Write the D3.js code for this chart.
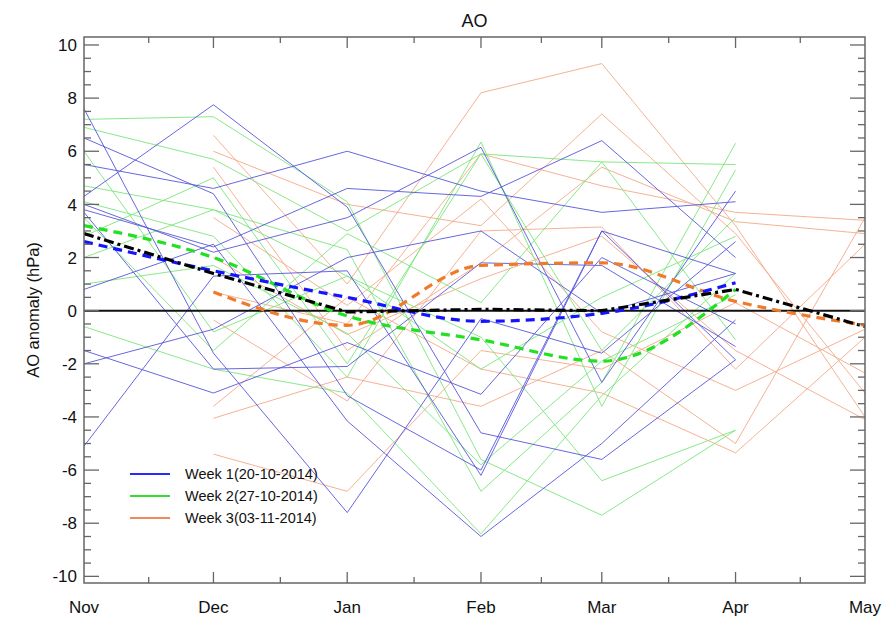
<!DOCTYPE html>
<html>
<head>
<meta charset="utf-8">
<script src="https://cdn.jsdelivr.net/npm/d3@7"></script>
<style>
  html, body { margin: 0; padding: 0; background: #fff; }
  svg { display: block; font-family: "Liberation Sans", Arial, Helvetica, sans-serif; }
</style>
</head>
<body>
<svg id="chart" width="895" height="619"></svg>
<script>
// Month labels and the first day of each month on the time axis
const monthLabels = ["Nov", "Dec", "Jan", "Feb", "Mar", "Apr", "May"];
const monthDates = [
  Date.UTC(2014, 10, 1), Date.UTC(2014, 11, 1), Date.UTC(2015, 0, 1),
  Date.UTC(2015, 1, 1), Date.UTC(2015, 2, 1), Date.UTC(2015, 3, 1), Date.UTC(2015, 4, 1)
].map(t => new Date(t));

// Week 1 members (Nov..Apr), hPa
const week1Members = [
  [7.6, -1.6, -7.6, -0.3, -1.6, 2.6],
  [6.5, 4.4, -3.2, -6.0, 3.0, 1.4],
  [5.5, 4.6, 6.0, 4.5, 3.7, 4.1],
  [4.3, 7.75, 3.9, -4.6, -5.6, -1.85],
  [4.0, 2.2, 3.5, 6.15, -2.7, 4.5],
  [3.8, 2.4, 4.6, 4.3, 6.4, 2.0],
  [3.7, -2.2, -2.1, 1.8, 1.7, -1.35],
  [0.8, 2.5, -4.15, -8.5, -5.0, -0.35],
  [-1.5, -3.1, -1.2, -3.15, 2.0, -0.5],
  [-2.0, -0.7, 2.0, 3.0, -0.1, 1.4],
  [-5.1, 1.3, 1.5, -6.2, 3.0, -1.85]
];
// Week 2 members (Nov..Apr)
const week2Members = [
  [7.2, 7.3, 4.1, -5.6, -7.7, -4.5],
  [6.9, 5.7, 3.0, 5.9, 5.6, 5.5],
  [4.7, 3.8, 2.3, -6.8, -2.7, 6.3],
  [4.1, 2.8, -2.5, 6.35, -3.6, 5.3],
  [2.0, 3.8, 1.3, -1.0, -6.4, -4.5],
  [1.0, 1.7, -0.85, -5.8, -1.9, 0.6],
  [-0.6, -2.2, -3.1, -8.4, -3.2, 1.4],
  [6.0, -0.8, 1.3, -2.2, 0.5, 2.8],
  [3.5, -1.5, 2.9, 0.3, 5.6, -1.1],
  [2.8, 5.0, -2.0, 5.9, -1.5, 3.5]
];
// Week 3 members (Dec..May)
const week3Members = [
  [6.6, 1.0, 8.2, 9.3, 3.2, -4.0],
  [6.0, 4.0, 3.2, 7.4, 2.9, -3.1],
  [5.4, -1.5, 1.8, 5.4, 3.35, 2.9],
  [0.7, -0.5, 5.9, 4.7, 3.7, 3.4],
  [-0.35, -3.4, 3.0, 3.15, -2.2, 2.5],
  [-3.6, 0.5, -2.2, -3.1, -5.35, -1.0],
  [-4.05, -2.5, -3.6, -1.5, -5.0, 3.5],
  [-5.4, -6.8, -1.5, -2.2, 0.3, -2.35],
  [2.0, -0.9, 1.2, 2.8, -1.5, -4.1],
  [3.5, 0.2, 4.2, -0.8, -3.0, -0.7]
];

// Ensemble means
const week1Mean = [2.6, 1.5, 0.5, -0.4, -0.1, 1.05];
const week2Mean = [3.2, 2.0, -0.2, -1.1, -1.9, 0.8];
const week3Mean = [0.7, -0.55, 1.7, 1.8, 0.35, -0.55];
const allMean   = [2.9, 1.4, -0.05, 0.05, 0.0, 0.8, -0.6];

const legendLabels = ["Week 1(20-10-2014)", "Week 2(27-10-2014)", "Week 3(03-11-2014)"];
const yMajorTicks = [-10, -8, -6, -4, -2, 0, 2, 4, 6, 8, 10];

const svg = d3.select("#chart");
const pLeft = 84, pRight = 865, pTop = 37, pBottom = 583;

const x = d3.scaleUtc().domain([monthDates[0], monthDates[6]]).range([pLeft, pRight]);
const y = d3.scaleLinear().domain([-10.25, 10.3]).range([pBottom, pTop]);

const col = {
  w1: "#5656dc", w2: "#7ce67c", w3: "#f4aa88",
  w1m: "#1414ff", w2m: "#22e022", w3m: "#f07a2a",
  w1l: "#2a2aff", w2l: "#33dd33", w3l: "#f08a5a"
};

const lineGen = d3.line().x(d => x(d[0])).y(d => y(d[1]));
const smoothGen = d3.line().x(d => x(d[0])).y(d => y(d[1])).curve(d3.curveMonotoneX);

const pair = (vals, offset) => vals.map((v, i) => [monthDates[i + offset], v]);

svg.append("clipPath").attr("id", "plotclip")
  .append("rect").attr("x", pLeft).attr("y", pTop).attr("width", pRight - pLeft).attr("height", pBottom - pTop);
const plot = svg.append("g").attr("clip-path", "url(#plotclip)");

function drawMembers(members, offset, color) {
  plot.append("g").selectAll("path").data(members).join("path")
    .attr("d", m => lineGen(pair(m, offset)))
    .attr("fill", "none").attr("stroke", color).attr("stroke-width", 1)
    .attr("stroke-opacity", 0.9).attr("stroke-linejoin", "round");
}
drawMembers(week3Members, 1, col.w3);
drawMembers(week2Members, 0, col.w2);
drawMembers(week1Members, 0, col.w1);

// zero line
plot.append("line").attr("x1", pLeft).attr("x2", pRight).attr("y1", y(0)).attr("y2", y(0))
  .attr("stroke", "#111").attr("stroke-width", 2);

function drawMean(vals, offset, color, dash, gen) {
  plot.append("path").attr("d", gen(pair(vals, offset)))
    .attr("fill", "none").attr("stroke", color).attr("stroke-width", 3.2)
    .attr("stroke-dasharray", dash);
}
drawMean(week3Mean, 1, col.w3m, "9,6", smoothGen);
drawMean(week2Mean, 0, col.w2m, "9,6", smoothGen);
drawMean(week1Mean, 0, col.w1m, "9,6", smoothGen);
drawMean(allMean, 0, "#000", "10,4,3,4", lineGen);

// frame
svg.append("rect").attr("x", pLeft).attr("y", pTop).attr("width", pRight - pLeft).attr("height", pBottom - pTop)
  .attr("fill", "none").attr("stroke", "#666").attr("stroke-width", 1.5);

// x ticks: months (major) and mid-month (minor), on top and bottom
const minorDates = monthDates.slice(0, -1).map((d, i) => new Date((+d + +monthDates[i + 1]) / 2));
const tickG = svg.append("g").attr("stroke", "#666").attr("stroke-width", 1.3);
monthDates.slice(1, -1).forEach(d => {
  tickG.append("line").attr("x1", x(d)).attr("x2", x(d)).attr("y1", pBottom).attr("y2", pBottom - 11);
  tickG.append("line").attr("x1", x(d)).attr("x2", x(d)).attr("y1", pTop).attr("y2", pTop + 11);
});
minorDates.forEach(d => {
  tickG.append("line").attr("x1", x(d)).attr("x2", x(d)).attr("y1", pBottom).attr("y2", pBottom - 6);
  tickG.append("line").attr("x1", x(d)).attr("x2", x(d)).attr("y1", pTop).attr("y2", pTop + 6);
});
// y ticks: major every 2, minor every 0.5, left and right
d3.range(-10, 10.01, 0.5).forEach(v => {
  const major = Math.abs(v % 2) < 1e-9;
  const len = major ? 15 : 7;
  tickG.append("line").attr("x1", pLeft).attr("x2", pLeft + len).attr("y1", y(v)).attr("y2", y(v));
  tickG.append("line").attr("x1", pRight).attr("x2", pRight - len).attr("y1", y(v)).attr("y2", y(v));
});

// tick labels
svg.append("g").selectAll("text").data(yMajorTicks).join("text")
  .attr("x", pLeft - 7).attr("y", v => y(v)).attr("dy", "0.36em")
  .attr("text-anchor", "end").attr("font-size", 17).attr("fill", "#111")
  .text(v => v);
svg.append("g").selectAll("text").data(monthLabels).join("text")
  .attr("x", (m, i) => x(monthDates[i])).attr("y", 613)
  .attr("text-anchor", "middle").attr("font-size", 17).attr("fill", "#111")
  .text(m => m);

// titles
svg.append("text").attr("x", (pLeft + pRight) / 2).attr("y", 27)
  .attr("text-anchor", "middle").attr("font-size", 18).attr("fill", "#111").text("AO");
svg.append("text").attr("transform", `translate(39,${(pTop + pBottom) / 2}) rotate(-90)`)
  .attr("text-anchor", "middle").attr("font-size", 16.5).attr("fill", "#111").text("AO anomaly (hPa)");

// legend
const legColors = [col.w1l, col.w2l, col.w3l];
const leg = svg.append("g");
legendLabels.forEach((t, i) => {
  const ly = 474 + i * 22;
  leg.append("line").attr("x1", 130).attr("x2", 170).attr("y1", ly).attr("y2", ly)
    .attr("stroke", legColors[i]).attr("stroke-width", 2);
  leg.append("text").attr("x", 185).attr("y", ly).attr("dy", "0.36em")
    .attr("font-size", 14.5).attr("fill", "#111").text(t);
});
</script>
</body>
</html>
